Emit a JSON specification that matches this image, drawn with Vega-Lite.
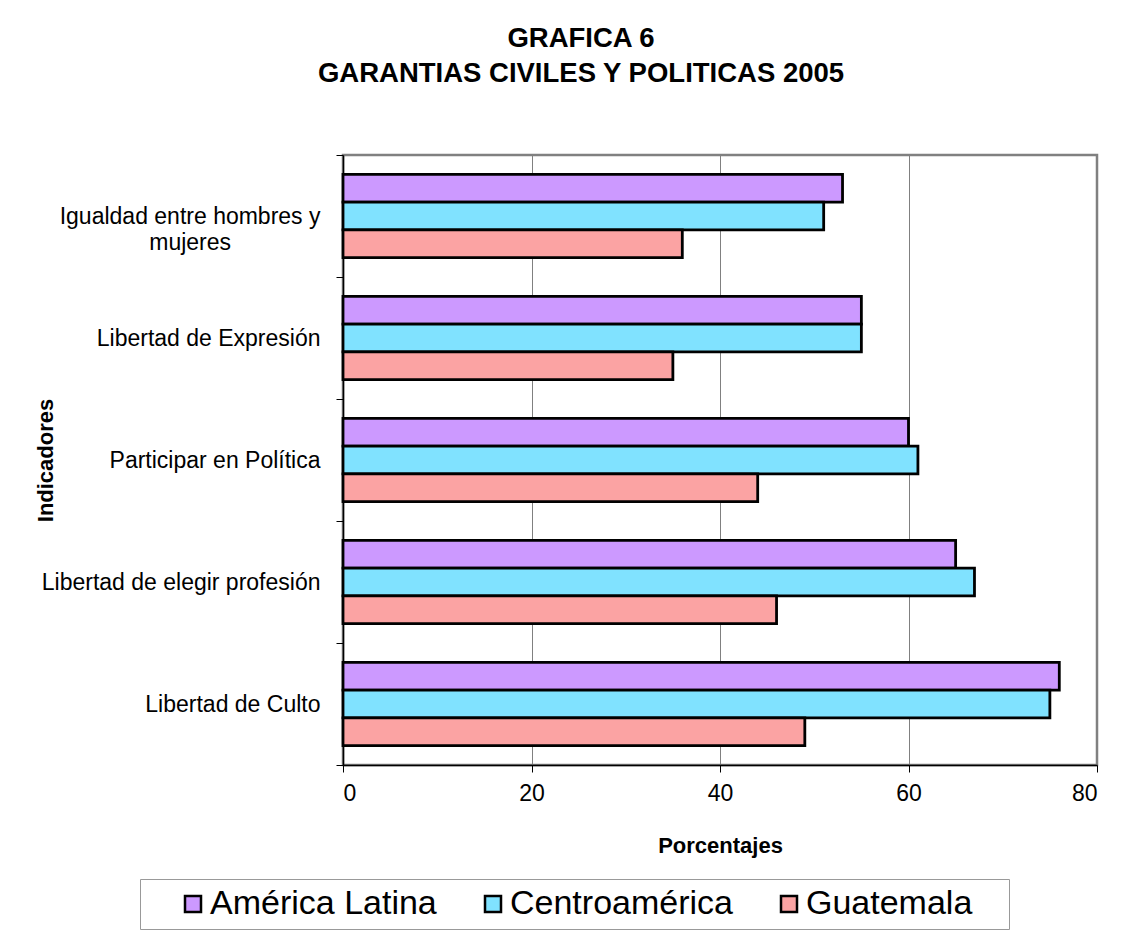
{
  "$schema": "https://vega.github.io/schema/vega-lite/v6.json",
  "width": 754,
  "height": 610,
  "autosize": {"type": "none"},
  "padding": {"left": 343, "top": 155, "right": 31, "bottom": 177},
  "background": "white",
  "title": {
    "text": ["GRAFICA 6", "GARANTIAS CIVILES Y POLITICAS 2005"],
    "fontSize": 27.5,
    "fontWeight": "bold",
    "color": "black",
    "anchor": "middle",
    "frame": "group",
    "dx": -139,
    "offset": 57,
    "lineHeight": 35
  },
  "data": {
    "values": [
      {"indicador": "Igualdad entre hombres y mujeres", "region": "América Latina", "valor": 53},
      {"indicador": "Igualdad entre hombres y mujeres", "region": "Centroamérica", "valor": 51},
      {"indicador": "Igualdad entre hombres y mujeres", "region": "Guatemala", "valor": 36},
      {"indicador": "Libertad de Expresión", "region": "América Latina", "valor": 55},
      {"indicador": "Libertad de Expresión", "region": "Centroamérica", "valor": 55},
      {"indicador": "Libertad de Expresión", "region": "Guatemala", "valor": 35},
      {"indicador": "Participar en Política", "region": "América Latina", "valor": 60},
      {"indicador": "Participar en Política", "region": "Centroamérica", "valor": 61},
      {"indicador": "Participar en Política", "region": "Guatemala", "valor": 44},
      {"indicador": "Libertad de elegir profesión", "region": "América Latina", "valor": 65},
      {"indicador": "Libertad de elegir profesión", "region": "Centroamérica", "valor": 67},
      {"indicador": "Libertad de elegir profesión", "region": "Guatemala", "valor": 46},
      {"indicador": "Libertad de Culto", "region": "América Latina", "valor": 76},
      {"indicador": "Libertad de Culto", "region": "Centroamérica", "valor": 75},
      {"indicador": "Libertad de Culto", "region": "Guatemala", "valor": 49}
    ]
  },
  "mark": {"type": "bar", "stroke": "black", "strokeWidth": 2.8},
  "encoding": {
    "y": {
      "field": "indicador",
      "type": "nominal",
      "sort": ["Igualdad entre hombres y mujeres", "Libertad de Expresión", "Participar en Política", "Libertad de elegir profesión", "Libertad de Culto"],
      "scale": {"paddingInner": 0, "paddingOuter": 0},
      "axis": {
        "title": "Indicadores",
        "titleFontSize": 22,
        "titleFontWeight": "bold",
        "titleColor": "black",
        "titleAngle": 270,
        "titleX": -298,
        "titleY": 305,
        "titleAlign": "center",
        "titleBaseline": "middle",
        "labelFontSize": 23,
        "labelColor": "black",
        "labelPadding": 16,
        "labelLimit": 400,
        "labelLineHeight": 26,
        "labelExpr": "datum.value == 'Igualdad entre hombres y mujeres' ? ['Igualdad entre hombres y', 'mujeres\u00a0\u00a0\u00a0\u00a0\u00a0\u00a0\u00a0\u00a0\u00a0\u00a0\u00a0\u00a0\u00a0\u00a0\u200b'] : datum.value",
        "tickBand": "extent",
        "tickSize": 7,
        "tickColor": "black",
        "domainColor": "black",
        "domainWidth": 1.5,
        "grid": false
      }
    },
    "yOffset": {
      "field": "region",
      "type": "nominal",
      "sort": ["América Latina", "Centroamérica", "Guatemala"],
      "scale": {"paddingInner": 0, "paddingOuter": 0.7}
    },
    "x": {
      "field": "valor",
      "type": "quantitative",
      "scale": {"domain": [0, 80]},
      "axis": {
        "title": "Porcentajes",
        "titleFontSize": 22,
        "titleFontWeight": "bold",
        "titleColor": "black",
        "titlePadding": 30,
        "values": [0, 20, 40, 60, 80],
        "labelFontSize": 23,
        "labelColor": "black",
        "labelPadding": 10,
        "tickSize": 7,
        "tickColor": "black",
        "domainColor": "black",
        "domainWidth": 1.5,
        "grid": true,
        "gridColor": "#808080",
        "gridWidth": 1
      }
    },
    "color": {
      "field": "region",
      "type": "nominal",
      "sort": ["América Latina", "Centroamérica", "Guatemala"],
      "scale": {
        "domain": ["América Latina", "Centroamérica", "Guatemala"],
        "range": ["#CC99FF", "#80E2FF", "#FBA3A3"]
      },
      "legend": {
        "title": null,
        "orient": "none",
        "legendX": -203,
        "legendY": 724,
        "direction": "horizontal",
        "gridAlign": "none",
        "symbolType": "square",
        "symbolSize": 256,
        "symbolStrokeColor": "black",
        "symbolStrokeWidth": 2.5,
        "symbolOpacity": 1,
        "labelFontSize": 34,
        "labelColor": "black",
        "labelLimit": 500,
        "labelOffset": 0,
        "labelExpr": "datum.label == 'Guatemala' ? 'Guatemala\u00a0\u00a0\u00a0\u200b' : datum.label",
        "columnPadding": 11,
        "symbolOffset": 28,
        "padding": 8,
        "fillColor": "white",
        "strokeColor": "#999999"
      }
    }
  },
  "config": {
    "font": "Liberation Sans",
    "view": {"stroke": "#808080", "strokeWidth": 2.5}
  }
}
